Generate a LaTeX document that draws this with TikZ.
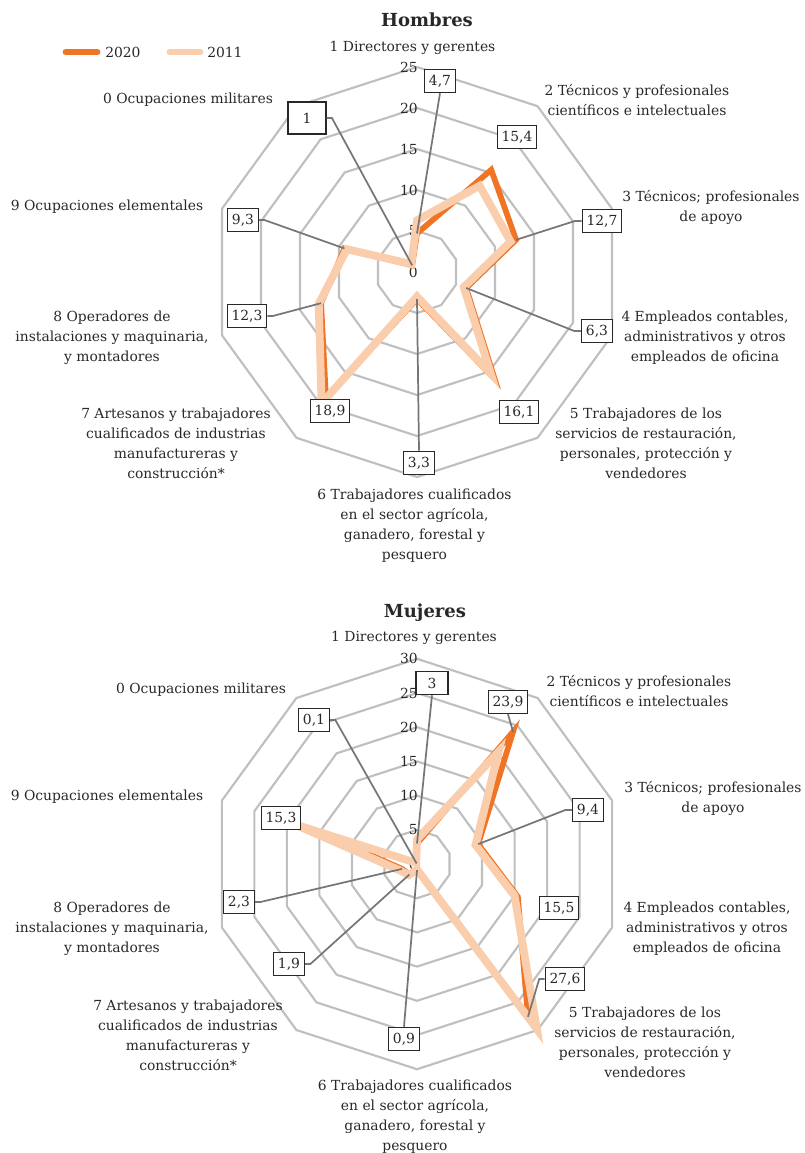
\documentclass[tikz,border=0pt]{standalone}
\usepackage{fontspec}
\setmainfont{DejaVu Serif}
\usepackage{tikz}

\definecolor{col2020}{RGB}{240,116,35}
\definecolor{col2011}{RGB}{250,206,172}
\definecolor{ringgray}{RGB}{191,191,191}
\definecolor{leadgray}{RGB}{118,118,118}
\definecolor{txt}{RGB}{40,40,40}

\tikzset{
  ring/.style={draw=ringgray, line width=1.6pt},
  lead/.style={draw=leadgray, line width=1.3pt},
  y2020/.style={draw=col2020, line width=4.3pt},
  y2011/.style={draw=col2011, line width=5.9pt},
  valbox/.style={draw=txt, line width=0.9pt, fill=white, text=txt,
    inner xsep=3.3pt, inner ysep=1pt, minimum height=17.5pt},
  cat/.style={align=center, text=txt, inner sep=0pt},
  tick/.style={anchor=east, text=txt, inner sep=0pt},
  ttl/.style={font=\fontsize{13.5pt}{16pt}\selectfont\bfseries, text=txt}
}

\begin{document}
\begin{tikzpicture}[x=0.75pt, y=-0.75pt, font=\fontsize{10.4pt}{15pt}\selectfont]
\useasboundingbox (0,0) rectangle (804,1153);

\draw[y2020, line width=5.2pt, line cap=round] (66,52) -- (97,52);
\node[anchor=west, text=txt, inner sep=0pt] (leg20) at (105,52) {2020};
\draw[y2011, line width=5.2pt, line cap=round] (170,52) -- (200,52);
\node[anchor=west, text=txt, inner sep=0pt] (leg11) at (207,52) {2011};

% Hombres
\node[ttl] (ht) at (427,20) {Hombres};
\begin{scope}[shift={(417,272)}, yscale=-1]
  \foreach \r in {1,...,5}
    \draw[ring] (90:{\r*41}) \foreach \k in {1,...,9}{ -- ({90-36*\k}:{\r*41})} -- cycle;
  \foreach \r/\t in {0/0,1/5,2/10,3/15,4/20,5/25}
    \node[tick] at (1,{\r*41}) {\t};
  \foreach \k/\v in {0/1,1/4.7,2/15.4,3/12.7,4/6.3,5/16.1,6/3.3,7/18.9,8/12.3,9/9.3}
    \coordinate (h20-\k) at ({126-36*\k}:{\v*8.2});
  \foreach \k/\v in {0/1.2,1/6.3,2/13.0,3/12.0,4/6.0,5/15.3,6/3.0,7/19.8,8/12.6,9/9.0}
    \coordinate (h11-\k) at ({126-36*\k}:{\v*8.2});
  \draw[y2020] (h20-0) \foreach \k in {1,...,9}{ -- (h20-\k)} -- cycle;
  \draw[y2011] (h11-0) \foreach \k in {1,...,9}{ -- (h11-\k)} -- cycle;
\end{scope}

\node[valbox, minimum width=28.5pt, minimum height=24pt] (hb0) at (307,118) {1};
\node[valbox] (hb1) at (440,81) {4,7};
\node[valbox] (hb2) at (517,137) {15,4};
\node[valbox] (hb3) at (602,221) {12,7};
\node[valbox] (hb4) at (597,331) {6,3};
\node[valbox] (hb5) at (519,412) {16,1};
\node[valbox] (hb6) at (419,463) {3,3};
\node[valbox] (hb7) at (330,411) {18,9};
\node[valbox] (hb8) at (247,316) {12,3};
\node[valbox] (hb9) at (243,220) {9,3};

\draw[lead] (h20-0) -- ([xshift=4pt]hb0.east) -- (hb0.east);
\draw[lead] (h20-1) -- (hb1.south);
\draw[lead] (h20-3) -- ([xshift=-5pt]hb3.west) -- (hb3.west);
\draw[lead] (h20-4) -- ([xshift=-5pt]hb4.west) -- (hb4.west);
\draw[lead] (h20-6) -- (hb6.north);
\draw[lead] (h20-8) -- ([xshift=4pt]hb8.east) -- (hb8.east);
\draw[lead] (h20-9) -- ([xshift=4pt]hb9.east) -- (hb9.east);

\node[cat] (hc1) at (412.5,48) {1 Directores y gerentes};
\node[cat] (hc2) at (637,100) {2 Técnicos y profesionales\\científicos e intelectuales};
\node[cat] (hc3) at (711,207) {3 Técnicos; profesionales\\de apoyo};
\node[cat] (hc4) at (705,338) {4 Empleados contables,\\administrativos y otros\\empleados de oficina};
\node[cat] (hc5) at (646,443.5) {5 Trabajadores de los\\servicios de restauración,\\personales, protección y\\vendedores};
\node[cat] (hc6) at (414.5,526) {6 Trabajadores cualificados\\en el sector agrícola,\\ganadero, forestal y\\pesquero};
\node[cat] (hc7) at (176,443) {7 Artesanos y trabajadores\\cualificados de industrias\\manufactureras y\\construcción*};
\node[cat] (hc8) at (112,338) {8 Operadores de\\instalaciones y maquinaria,\\y montadores};
\node[cat] (hc9) at (107,207) {9 Ocupaciones elementales};
\node[cat] (hc0) at (188,100) {0 Ocupaciones militares};

% Mujeres
\node[ttl] (mt) at (425,613) {Mujeres};
\begin{scope}[shift={(417,864)}, yscale=-1]
  \foreach \r in {1,...,6}
    \draw[ring] (90:{\r*34.2}) \foreach \k in {1,...,9}{ -- ({90-36*\k}:{\r*34.2})} -- cycle;
  \foreach \r/\t in {0/0,1/5,2/10,3/15,4/20,5/25,6/30}
    \node[tick] at (1,{\r*34.2}) {\t};
  \foreach \k/\v in {0/0.1,1/3,2/23.9,3/9.4,4/15.5,5/27.6,6/0.9,7/1.9,8/2.3,9/15.3}
    \coordinate (m20-\k) at ({126-36*\k}:{\v*6.84});
  \foreach \k/\v in {0/0.2,1/3.6,2/20.3,3/9.0,4/15.0,5/29.8,6/0.8,7/2.0,8/2.8,9/19.0}
    \coordinate (m11-\k) at ({126-36*\k}:{\v*6.84});
  \draw[y2020] (m20-0) \foreach \k in {1,...,9}{ -- (m20-\k)} -- cycle;
  \draw[y2011] (m11-0) \foreach \k in {1,...,9}{ -- (m11-\k)} -- cycle;
\end{scope}

\node[valbox] (mb0) at (314,720) {0,1};
\node[valbox, minimum width=24pt] (mb1) at (432,683) {3};
\node[valbox] (mb2) at (508,702) {23,9};
\node[valbox] (mb3) at (588,810) {9,4};
\node[valbox] (mb4) at (559,908) {15,5};
\node[valbox] (mb5) at (565,979) {27,6};
\node[valbox] (mb6) at (404,1039) {0,9};
\node[valbox] (mb7) at (289,964) {1,9};
\node[valbox] (mb8) at (239,902) {2,3};
\node[valbox] (mb9) at (281,818) {15,3};

\draw[lead] (m20-0) -- ([xshift=4pt]mb0.east) -- (mb0.east);
\draw[lead] (m20-1) -- (mb1.south);
\draw[lead] (m20-2) -- (mb2.south);
\draw[lead] (m20-3) -- ([xshift=-5pt]mb3.west) -- (mb3.west);
\draw[lead] (m20-5) -- ([xshift=-4pt]mb5.west) -- (mb5.west);
\draw[lead] (m20-6) -- (mb6.north);
\draw[lead] (m20-7) -- ([xshift=4pt]mb7.east) -- (mb7.east);
\draw[lead] (m20-8) -- ([xshift=4pt]mb8.east) -- (mb8.east);

\node[cat] (mc1) at (414,638) {1 Directores y gerentes};
\node[cat] (mc2) at (639,691) {2 Técnicos y profesionales\\científicos e intelectuales};
\node[cat] (mc3) at (713,798) {3 Técnicos; profesionales\\de apoyo};
\node[cat] (mc4) at (707,929) {4 Empleados contables,\\administrativos y otros\\empleados de oficina};
\node[cat] (mc5) at (645,1042) {5 Trabajadores de los\\servicios de restauración,\\personales, protección y\\vendedores};
\node[cat] (mc6) at (415,1117) {6 Trabajadores cualificados\\en el sector agrícola,\\ganadero, forestal y\\pesquero};
\node[cat] (mc7) at (188,1035) {7 Artesanos y trabajadores\\cualificados de industrias\\manufactureras y\\construcción*};
\node[cat] (mc8) at (112,929) {8 Operadores de\\instalaciones y maquinaria,\\y montadores};
\node[cat] (mc9) at (107,797) {9 Ocupaciones elementales};
\node[cat] (mc0) at (201,690) {0 Ocupaciones militares};
\end{tikzpicture}
\end{document}
